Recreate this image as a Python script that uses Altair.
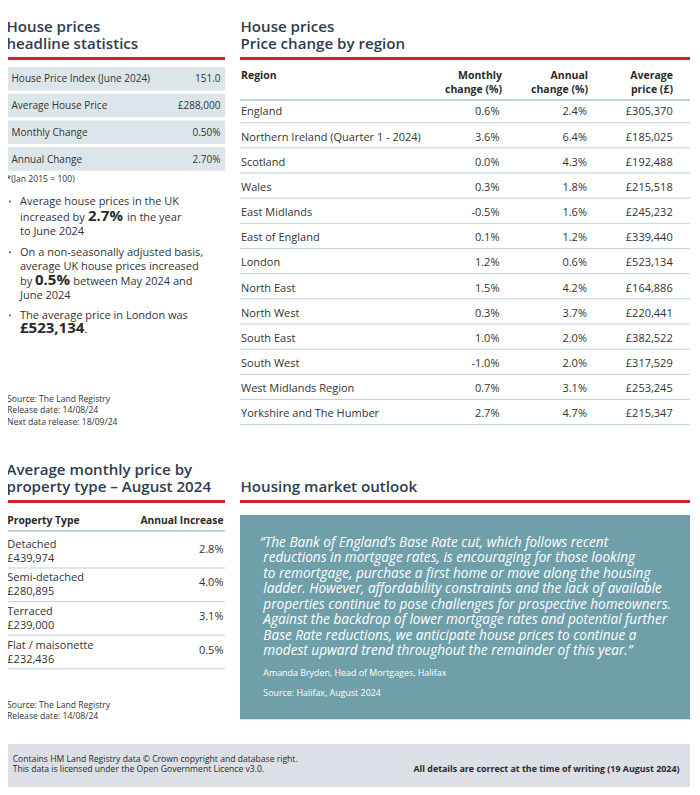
import altair as alt
import pandas as pd

# ---------------- data ----------------
stat_labels = ["House Price Index (June 2024)", "Average House Price", "Monthly Change", "Annual Change"]
stat_values = ["151.0", "£288,000", "0.50%", "2.70%"]

regions = ["England", "Northern Ireland (Quarter 1 - 2024)", "Scotland", "Wales", "East Midlands",
           "East of England", "London", "North East", "North West", "South East", "South West",
           "West Midlands Region", "Yorkshire and The Humber"]
monthly_change = [0.6, 3.6, 0.0, 0.3, -0.5, 0.1, 1.2, 1.5, 0.3, 1.0, -1.0, 0.7, 2.7]
annual_change = [2.4, 6.4, 4.3, 1.8, 1.6, 1.2, 0.6, 4.2, 3.7, 2.0, 2.0, 3.1, 4.7]
average_price = [305370, 185025, 192488, 215518, 245232, 339440, 523134, 164886, 220441,
                 382522, 317529, 253245, 215347]

prop_types = ["Detached", "Semi-detached", "Terraced", "Flat / maisonette"]
prop_prices = [439974, 280895, 239000, 232436]
prop_increase = [2.8, 4.0, 3.1, 0.5]

quote_lines = [
    "\u201cThe Bank of England\u2019s Base Rate cut, which follows recent",
    "reductions in mortgage rates, is encouraging for those looking",
    "to remortgage, purchase a first home or move along the housing",
    "ladder. However, affordability constraints and the lack of available",
    "properties continue to pose challenges for prospective homeowners.",
    "Against the backdrop of lower mortgage rates and potential further",
    "Base Rate reductions, we anticipate house prices to continue a",
    "modest upward trend throughout the remainder of this year.\u201d",
]
quote_author = "Amanda Bryden, Head of Mortgages, Halifax"
quote_source = "Source: Halifax, August 2024"

land_source = ["Source: The Land Registry", "Release date: 14/08/24", "Next data release: 18/09/24"]
footer_left = ["Contains HM Land Registry data \u00a9 Crown copyright and database right.",
               "This data is licensed under the Open Government Licence v3.0."]
footer_right = "All details are correct at the time of writing (19 August 2024)"

# ---------------- styling ----------------
W, H, M = 700, 795, 8
FONT = "Open Sans"
NAVY = "#2f3c50"
TXT = "#333333"
RED = "#d2202d"
BOXC = "#dce6ea"
LINEC = "#bcd2db"
TEAL = "#6fa0aa"
FOOT = "#dcdfe5"

xs = alt.Scale(domain=[M, W - M], range=[0, W - 2 * M])
ys = alt.Scale(domain=[M, H - M], range=[0, H - 2 * M])

texts = []   # dicts: x, y, t, s, c, w, st, a


def T(x, y, t, s=10, c=TXT, w="normal", st="normal", a="left"):
    texts.append(dict(x=x, y=y, t=t, s=s, c=c, w=w, st=st, a=a))


rects = []
rules = []
dots = []


def R(x, x2, y, y2, c):
    rects.append(dict(x=x, x2=x2, y=y, y2=y2, c=c))


def L(x, x2, y, c, sw=1):
    rules.append(dict(x=x, x2=x2, y=y, y2=y, c=c, sw=sw))


TW = "600"
TS = 15.1
# ---- left: headline statistics ----
T(6.5, 31.7, "House prices", TS, NAVY, TW)
T(6.5, 49.3, "headline statistics", TS, NAVY, TW)
L(7, 225, 58.5, RED, 3)
for i, (lab, val) in enumerate(zip(stat_labels, stat_values)):
    top = 67 + i * 26.7
    R(7, 225, top, top + 23.6, BOXC)
    T(11.5, top + 15.4, lab, 10)
    T(220.5, top + 15.4, val, 10, a="right")
T(6.5, 181.7, "*(Jan 2015 = 100)", 8.6)

BS = 11
T(20, 205, "Average house prices in the UK", BS)
T(20, 220.7, "increased by", BS)
T(88, 220.7, "2.7%", 15, "#2a2a2a", "bold")
T(127, 220.7, "in the year", BS)
T(20, 235, "to June 2024", BS)
T(20, 255.7, "On a non-seasonally adjusted basis,", BS)
T(20, 270, "average UK house prices increased", BS)
T(20, 285, "by", BS)
T(35, 285, "0.5%", 15, "#2a2a2a", "bold")
T(73.3, 285, "between May 2024 and", BS)
T(20, 299.3, "June 2024", BS)
T(20, 319, "The average price in London was", BS)
T(20, 333.3, "\u00a3" + f"{average_price[regions.index('London')]:,}", 15, "#2a2a2a", "bold")
T(84.3, 333.3, ".", BS)
for yb in [205, 255.7, 319]:
    dots.append(dict(x=10, y=yb - 3.5))
for i, s in enumerate(land_source):
    T(7, 401.7 + i * 11.65, s, 8.6)

# ---- right: price change by region ----
T(240.5, 31.7, "House prices", TS, NAVY, TW)
T(240.5, 49.3, "Price change by region", TS, NAVY, TW)
L(240, 690, 58.5, RED, 3)
T(241, 79, "Region", 10.5, "#2a2a2a", "bold")
for xr, l1, l2 in [(502, "Monthly", "change (%)"), (588, "Annual", "change (%)"), (673, "Average", "price (\u00a3)")]:
    T(xr, 79, l1, 10.5, "#2a2a2a", "bold", a="right")
    T(xr, 92.7, l2, 10.5, "#2a2a2a", "bold", a="right")
L(240, 690, 100, "#a9c5d1", 1.3)
P = 25.16
RS = 11
for i, reg in enumerate(regions):
    yb = 115.4 + i * P
    T(241, yb, reg, RS)
    T(499.5, yb, f"{monthly_change[i]:.1f}%", RS, a="right")
    T(587, yb, f"{annual_change[i]:.1f}%", RS, a="right")
    T(672.7, yb, f"\u00a3{average_price[i]:,}", RS, a="right")
    L(240, 690, 122.7 + i * P, LINEC, 1)

# ---- bottom left: property type ----
T(6.5, 475, "Average monthly price by", TS, NAVY, TW)
T(6.5, 491.7, "property type \u2013 August 2024", TS, NAVY, TW)
L(7, 225, 501.5, RED, 3)
T(7.3, 524, "Property Type", 10.3, "#2a2a2a", "bold")
T(223.5, 524, "Annual Increase", 10.3, "#2a2a2a", "bold", a="right")
L(7, 225, 531, "#a9c5d1", 1.3)
PP = 33.6
for i, pt in enumerate(prop_types):
    T(7.3, 547.7 + i * PP, pt, 11)
    T(7.3, 561.7 + i * PP, f"\u00a3{prop_prices[i]:,}", 11)
    T(223.5, 552.7 + i * PP, f"{prop_increase[i]:.1f}%", 11, a="right")
    L(7, 225, 568 + i * PP, LINEC, 1)
T(7, 708.3, land_source[0], 8.6)
T(7, 719.3, land_source[1], 8.6)

# ---- bottom right: outlook ----
T(240.5, 491.7, "Housing market outlook", TS, NAVY, TW)
L(240, 690, 501.5, RED, 3)
R(240, 690, 515, 719.3, TEAL)
for i, ql in enumerate(quote_lines):
    T(259.8 if i == 0 else 263.3, 546.7 + i * 15.47, ql, 13.6, "#ffffff", st="italic")
T(263.3, 676, quote_author, 8.9, "#ffffff")
T(263.3, 696, quote_source, 8.9, "#ffffff")

# ---- footer ----
R(6, 690, 744, 787.7, FOOT)
T(12.7, 761.7, footer_left[0], 8.6, "#2a2a2a")
T(12.7, 772.3, footer_left[1], 8.6, "#2a2a2a")
T(679.5, 772.3, footer_right, 8.9, "#2a2a2a", "bold", a="right")

# ---------------- chart ----------------
X = alt.X("x:Q", scale=xs, axis=None)
Y = alt.Y("y:Q", scale=ys, axis=None)

rect_layer = alt.Chart(pd.DataFrame(rects)).mark_rect().encode(
    x=X, x2="x2:Q", y=Y, y2="y2:Q", color=alt.Color("c:N", scale=None))
rule_layer = alt.Chart(pd.DataFrame(rules)).mark_rule().encode(
    x=X, x2="x2:Q", y=Y, y2="y2:Q", color=alt.Color("c:N", scale=None),
    size=alt.Size("sw:Q", scale=None))
dot_layer = alt.Chart(pd.DataFrame(dots)).mark_circle(size=4, color="#555555", opacity=1).encode(x=X, y=Y)

layers = [rect_layer, rule_layer, dot_layer]
tdf = pd.DataFrame(texts)
for (w, st, a), g in tdf.groupby(["w", "st", "a"]):
    wv = int(w) if w.isdigit() else w
    layers.append(
        alt.Chart(g).mark_text(font=FONT, fontWeight=wv, fontStyle=st, align=a, baseline="alphabetic").encode(
            x=X, y=Y, text="t:N", size=alt.Size("s:Q", scale=None), color=alt.Color("c:N", scale=None))
    )

chart = alt.layer(*layers).properties(
    width=W - 2 * M, height=H - 2 * M, padding=0, autosize=alt.AutoSizeParams(type="none"),
    background="#ffffff"
).configure_view(stroke=None)

chart.save("out.html", embed_options={"renderer": "svg", "actions": False})
